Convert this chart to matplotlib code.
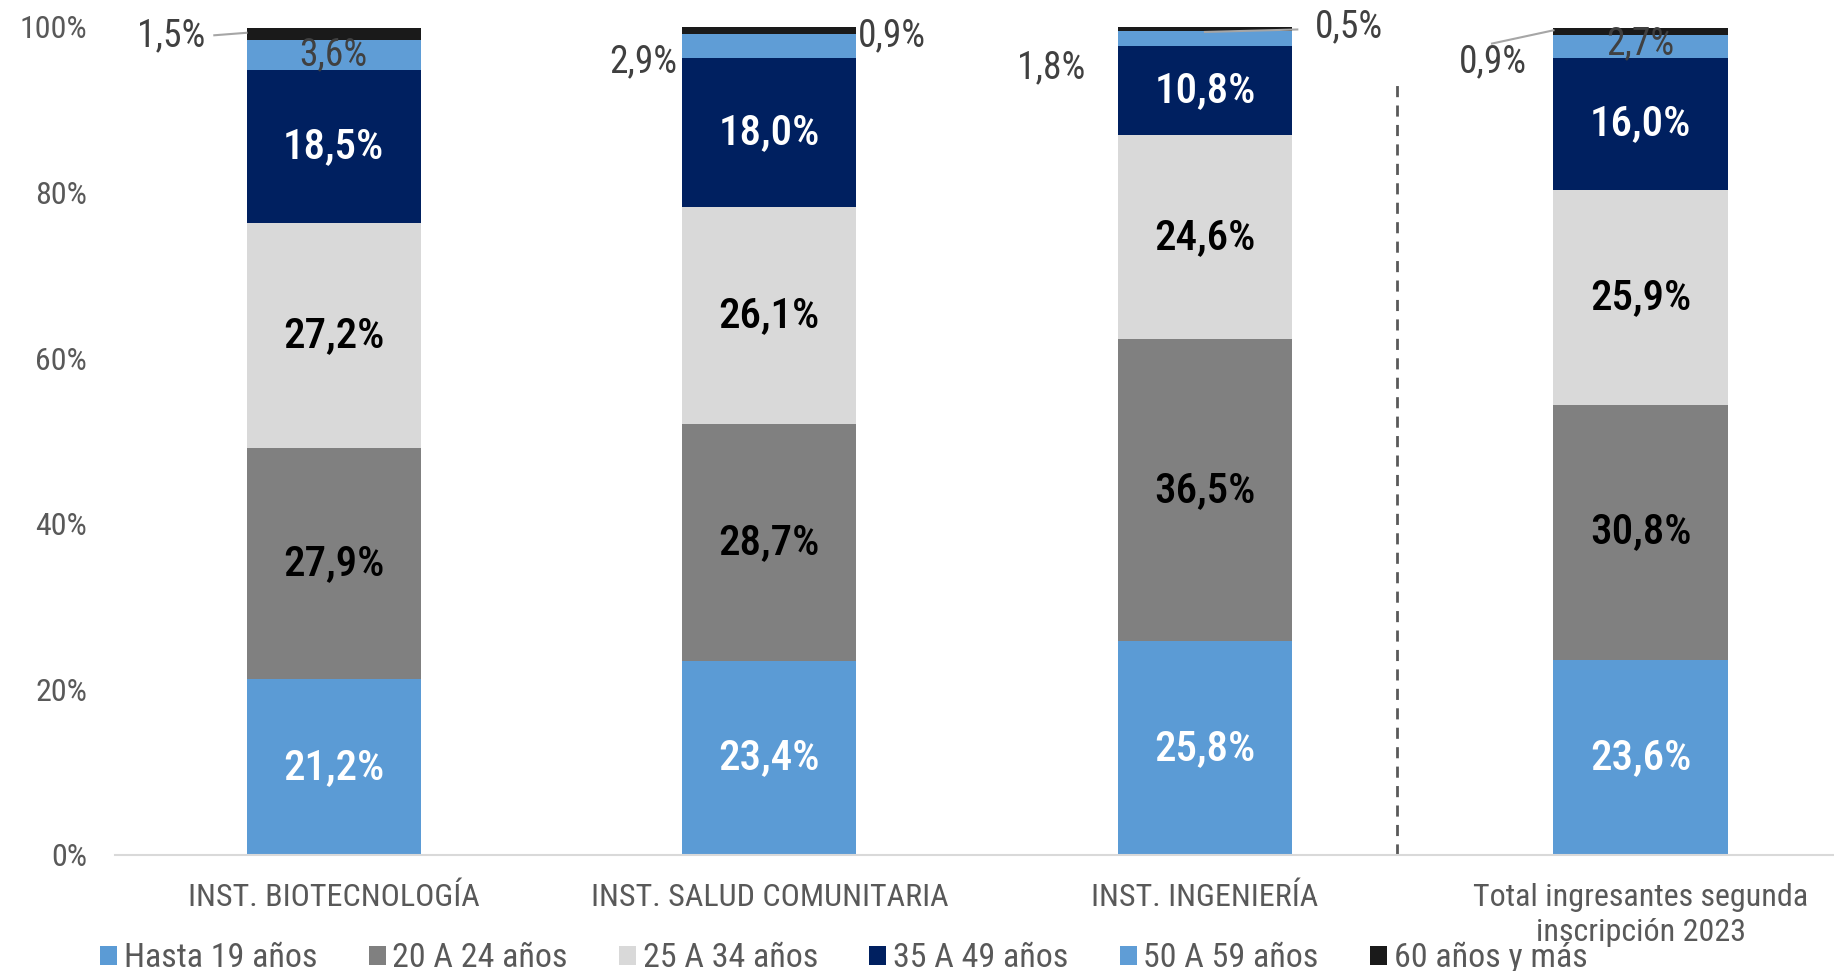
import matplotlib
matplotlib.use("Agg")
import matplotlib.pyplot as plt
from matplotlib import font_manager
import numpy as np

categories = ["INST. BIOTECNOLOGÍA", "INST. SALUD COMUNITARIA", "INST. INGENIERÍA",
              "Total ingresantes segunda\ninscripción 2023"]
series_names = ["Hasta 19 años", "20 A 24 años", "25 A 34 años", "35 A 49 años",
                "50 A 59 años", "60 años y más"]
hasta19 = [21.2, 23.4, 25.8, 23.6]
a20_24 = [27.9, 28.7, 36.5, 30.8]
a25_34 = [27.2, 26.1, 24.6, 25.9]
a35_49 = [18.5, 18.0, 10.8, 16.0]
a50_59 = [3.6, 2.9, 1.8, 2.7]
a60 = [1.5, 0.9, 0.5, 0.9]
yticks = [0, 20, 40, 60, 80, 100]
ytick_labels = ["0%", "20%", "40%", "60%", "80%", "100%"]

series = [hasta19, a20_24, a25_34, a35_49, a50_59, a60]
colors = ["#5B9BD5", "#808080", "#D9D9D9", "#002060", "#5F9DD6", "#1A1A1A"]
inner_text = ["white", "black", "black", "white", None, None]

available = {f.name for f in font_manager.fontManager.ttflist}
fam = 'DejaVu Sans'
for cand in ['Roboto Condensed', 'Liberation Sans Narrow', 'Open Sans Condensed', 'Roboto']:
    if cand in available:
        fam = cand
        break
plt.rcParams['font.family'] = [fam, 'DejaVu Sans']

fig = plt.figure(figsize=(18.34, 9.71), dpi=100)
ax = fig.add_axes([0.0627, 0.1195, 0.9373, 0.8527])

x = np.arange(len(categories))
width = 0.40
bottom = np.zeros(len(categories))
for vals, col, name in zip(series, colors, series_names):
    ax.bar(x, vals, width, bottom=bottom, color=col, label=name, edgecolor='none')
    bottom += np.array(vals)

def fmt(v):
    return f"{v:.1f}".replace(".", ",") + "%"

# big inner labels
bottom = np.zeros(len(categories))
for si, (vals, tc) in enumerate(zip(series, inner_text)):
    for i, v in enumerate(vals):
        if tc is not None:
            ax.text(x[i], bottom[i] + v / 2, fmt(v), ha='center', va='center',
                    color=tc, fontsize=31, fontweight='medium')
    bottom += np.array(vals)

dark = "#404040"
sfs = 27
cum4 = [sum(s[i] for s in series[:4]) for i in range(4)]
# 50-59 small labels
ax.text(x[0], cum4[0] + a50_59[0] / 2, fmt(a50_59[0]), ha='center', va='center', color=dark, fontsize=sfs)
ax.text(x[3], cum4[3] + a50_59[3] / 2 + 0.3, fmt(a50_59[3]), ha='center', va='center', color=dark, fontsize=sfs)
ax.text(x[1] - 0.212, 95.8, fmt(a50_59[1]), ha='right', va='center', color=dark, fontsize=sfs)
ax.text(x[2] - 0.274, 95.1, fmt(a50_59[2]), ha='right', va='center', color=dark, fontsize=sfs)
# 60+ labels
ax.text(x[0] - 0.295, 99.0, fmt(a60[0]), ha='right', va='center', color=dark, fontsize=sfs)
ax.plot([x[0] - 0.274, x[0] - 0.2], [99.0, 99.3], color="#A6A6A6", lw=1.5)
ax.text(x[1] + 0.204, 99.0, fmt(a60[1]), ha='left', va='center', color=dark, fontsize=sfs)
ax.text(x[2] + 0.252, 100.0, fmt(a60[2]), ha='left', va='center', color=dark, fontsize=sfs)
ax.plot([x[2], x[2] + 0.212], [99.4, 99.7], color="#A6A6A6", lw=1.5)
ax.text(x[3] - 0.26, 95.8, fmt(a60[3]), ha='right', va='center', color=dark, fontsize=sfs)
ax.plot([x[3] - 0.341, x[3] - 0.2], [98.0, 99.6], color="#A6A6A6", lw=1.5)

# dashed separator
ax.plot([2.44, 2.44], [0, 93.4], color="#595959", lw=2, ls=(0, (4, 3)))

ax.set_xlim(-0.502, 3.444)
ax.set_ylim(0, 100)
ax.set_yticks(yticks)
ax.set_yticklabels(ytick_labels, fontsize=23, color="#595959")
ax.set_xticks(x)
ax.set_xticklabels(categories, fontsize=23, color="#595959", linespacing=1.27)
ax.tick_params(axis='y', length=0, pad=20)
ax.tick_params(axis='x', length=0, pad=20)
for s in ['top', 'right', 'left']:
    ax.spines[s].set_visible(False)
ax.spines['bottom'].set_color("#D9D9D9")
ax.spines['bottom'].set_linewidth(1.5)

handles, labels = ax.get_legend_handles_labels()
fig.legend(handles, labels, loc='lower left', bbox_to_anchor=(0.038, -0.035), ncol=6,
           frameon=False, fontsize=24.5, handlelength=0.5, handleheight=0.5,
           handletextpad=0.2, columnspacing=1.5, labelcolor="#595959")

fig.savefig("out.png", dpi=100)
